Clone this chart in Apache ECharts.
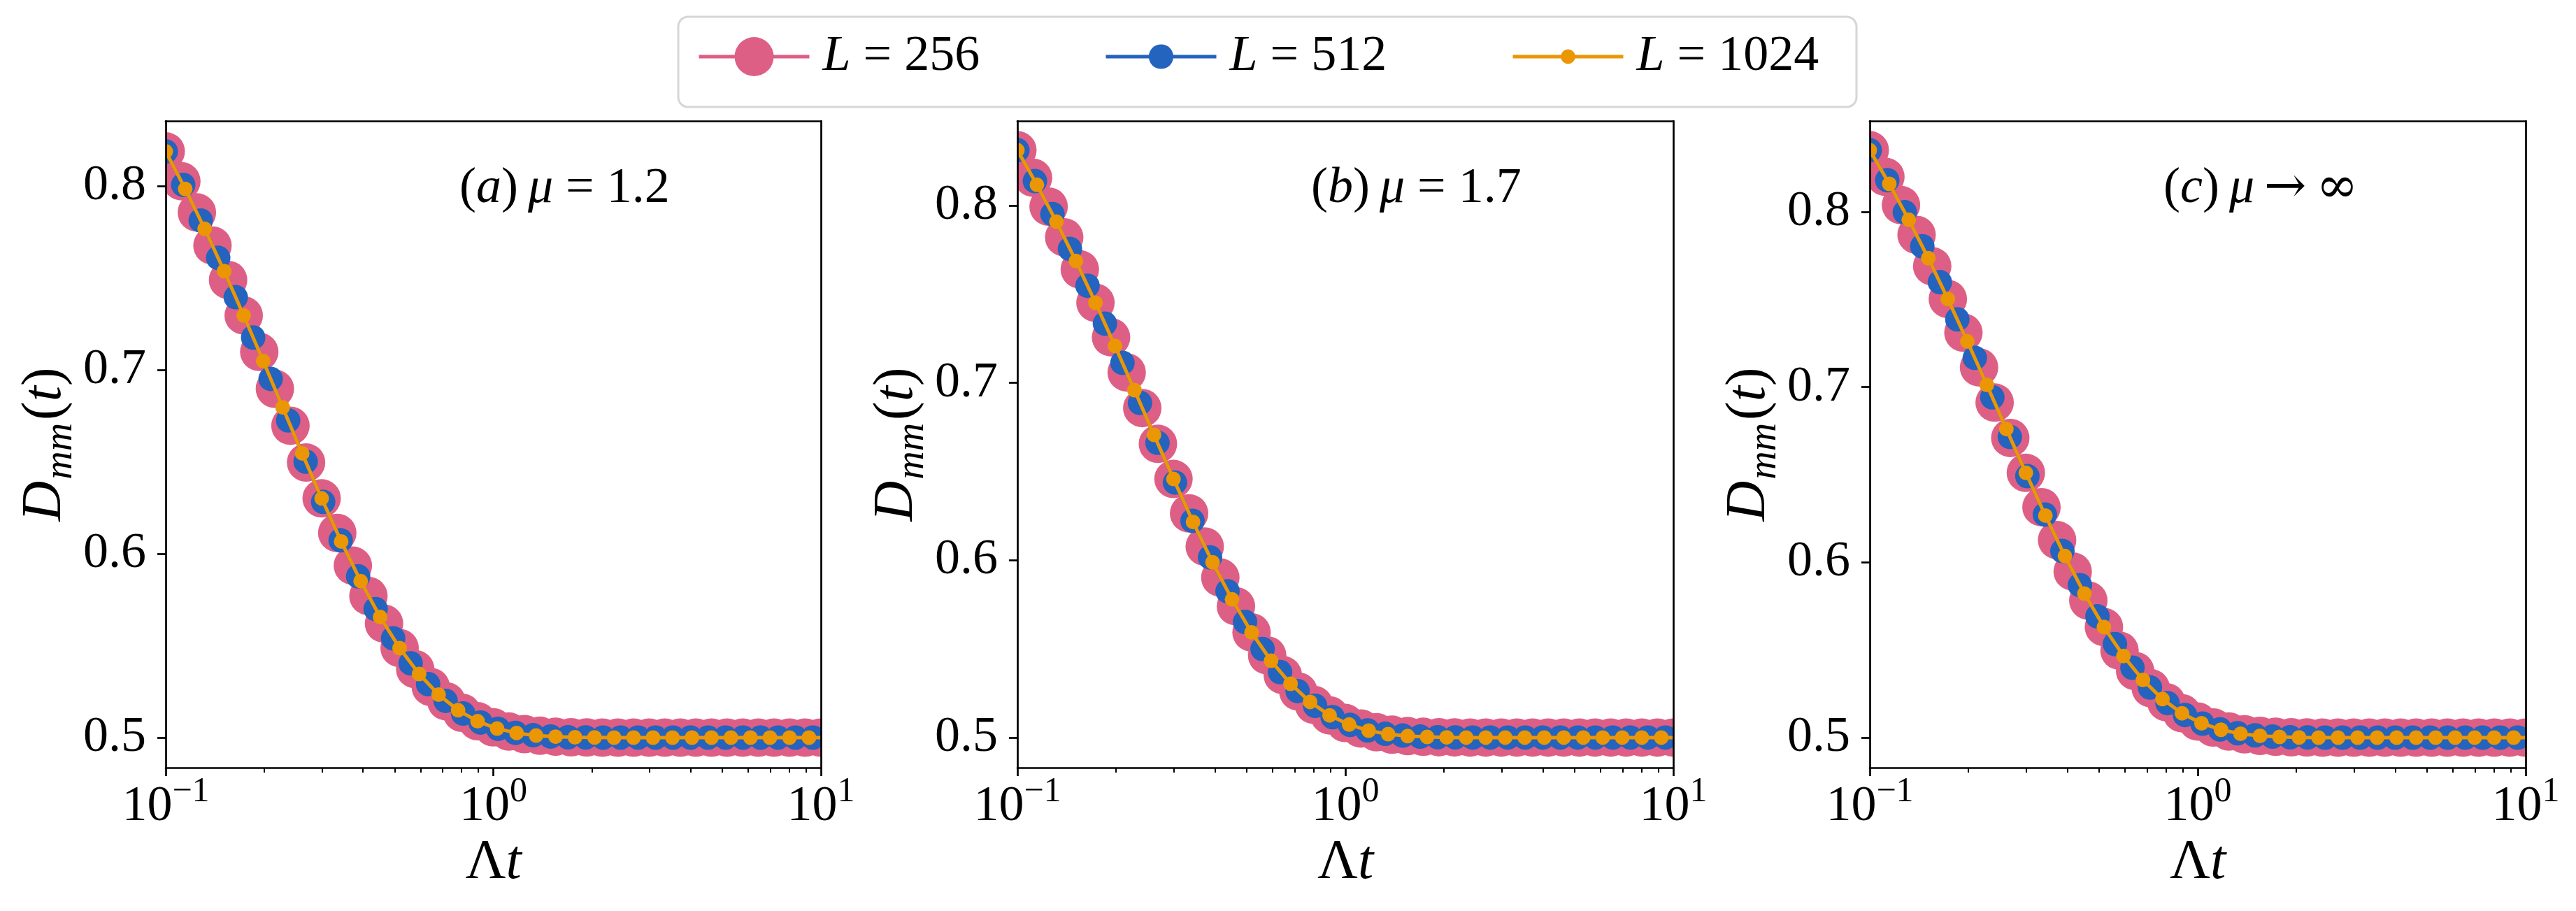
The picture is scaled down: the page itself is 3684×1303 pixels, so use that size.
<!DOCTYPE html>
<html>
<head>
<meta charset="utf-8">
<title>D_mm(t)</title>
<script src="https://cdn.jsdelivr.net/npm/echarts@6.0.0/dist/echarts.min.js"></script>
<style>
html, body { margin: 0; padding: 0; background: #ffffff; }
#main { width: 3684px; height: 1303px; }
</style>
</head>
<body>
<div id="main"></div>
<script>
/** ----------------数据：每个 L 的时间采样点------------------------- */
var tPink = [0.1, 0.1116, 0.1245, 0.1389, 0.1550, 0.1730, 0.1930, 0.2154, 0.2403, 0.2682, 0.2992,
	0.3339, 0.3726, 0.4157, 0.4639, 0.5176, 0.5776, 0.6445, 0.7191, 0.8024, 0.8954, 0.9991,
	1.115, 1.244, 1.388, 1.549, 1.728, 1.929, 2.152, 2.401, 2.679, 2.990, 3.336, 3.722,
	4.154, 4.634, 5.171, 5.771, 6.440, 7.186, 8.017, 8.946, 9.982, 11.14];
var tBlue = [0.1, 0.1131, 0.1279, 0.1446, 0.1636, 0.1849, 0.2091, 0.2365, 0.2674, 0.3024, 0.3420,
	0.3867, 0.4373, 0.4946, 0.5593, 0.6324, 0.7152, 0.8088, 0.9146, 1.034, 1.169, 1.323,
	1.496, 1.691, 1.913, 2.163, 2.446, 2.766, 3.128, 3.537, 3.999, 4.523, 5.115, 5.784,
	6.541, 7.396, 8.364, 9.458, 10.70];
var tOrange = [0.1, 0.1147, 0.1315, 0.1508, 0.1730, 0.1984, 0.2275, 0.2609, 0.2992, 0.3432, 0.3936,
	0.4514, 0.5176, 0.5936, 0.6808, 0.7808, 0.8954, 1.027, 1.178, 1.351, 1.549, 1.776,
	2.037, 2.336, 2.679, 3.073, 3.524, 4.041, 4.634, 5.315, 6.095, 6.990, 8.017, 9.194, 10.54];

/** ----------------数据：(a) mu = 1.2------------------------- */
var aPink = [0.8188, 0.8026, 0.7856, 0.7676, 0.7489, 0.7296, 0.7098, 0.6897, 0.6696, 0.6496, 0.6301,
	0.6113, 0.5935, 0.5770, 0.5620, 0.5487, 0.5372, 0.5275, 0.5197, 0.5135, 0.5089, 0.5056,
	0.5033, 0.5019, 0.5010, 0.5005, 0.5002, 0.5001, 0.5000, 0.5000, 0.5000, 0.5000, 0.5000, 0.5000,
	0.5000, 0.5000, 0.5000, 0.5000, 0.5000, 0.5000, 0.5000, 0.5000, 0.5000, 0.5000];
var aBlue = [0.8188, 0.8006, 0.7812, 0.7609, 0.7395, 0.7176, 0.6951, 0.6725, 0.6501, 0.6282, 0.6073,
	0.5877, 0.5699, 0.5540, 0.5404, 0.5291, 0.5200, 0.5131, 0.5082, 0.5048, 0.5026, 0.5013,
	0.5006, 0.5002, 0.5001, 0.5000, 0.5000, 0.5000, 0.5000, 0.5000, 0.5000, 0.5000, 0.5000, 0.5000,
	0.5000, 0.5000, 0.5000, 0.5000, 0.5000];
var aOrange = [0.8188, 0.7984, 0.7767, 0.7537, 0.7296, 0.7048, 0.6796, 0.6546, 0.6301, 0.6067, 0.5851,
	0.5656, 0.5487, 0.5346, 0.5234, 0.5149, 0.5089, 0.5049, 0.5025, 0.5011, 0.5005, 0.5002,
	0.5001, 0.5000, 0.5000, 0.5000, 0.5000, 0.5000, 0.5000, 0.5000, 0.5000, 0.5000, 0.5000, 0.5000, 0.5000];

/** ----------------数据：(b) mu = 1.7------------------------- */
var bPink = [0.8312, 0.8157, 0.7994, 0.7821, 0.7640, 0.7452, 0.7257, 0.7059, 0.6858, 0.6656, 0.6458,
	0.6264, 0.6077, 0.5902, 0.5740, 0.5593, 0.5463, 0.5352, 0.5259, 0.5184, 0.5125, 0.5082,
	0.5051, 0.5030, 0.5016, 0.5008, 0.5004, 0.5002, 0.5001, 0.5000, 0.5000, 0.5000, 0.5000, 0.5000,
	0.5000, 0.5000, 0.5000, 0.5000, 0.5000, 0.5000, 0.5000, 0.5000, 0.5000, 0.5000];
var bBlue = [0.8312, 0.8138, 0.7952, 0.7755, 0.7548, 0.7334, 0.7113, 0.6887, 0.6662, 0.6438, 0.6222,
	0.6016, 0.5825, 0.5652, 0.5499, 0.5369, 0.5262, 0.5179, 0.5115, 0.5071, 0.5040, 0.5021,
	0.5011, 0.5005, 0.5002, 0.5001, 0.5000, 0.5000, 0.5000, 0.5000, 0.5000, 0.5000, 0.5000, 0.5000,
	0.5000, 0.5000, 0.5000, 0.5000, 0.5000];
var bOrange = [0.8312, 0.8117, 0.7909, 0.7687, 0.7452, 0.7208, 0.6959, 0.6707, 0.6458, 0.6216, 0.5988,
	0.5779, 0.5593, 0.5433, 0.5303, 0.5201, 0.5125, 0.5073, 0.5039, 0.5019, 0.5008, 0.5003,
	0.5001, 0.5000, 0.5000, 0.5000, 0.5000, 0.5000, 0.5000, 0.5000, 0.5000, 0.5000, 0.5000, 0.5000, 0.5000];

/** ----------------数据：(c) mu -> 无穷------------------------- */
var cPink = [0.8352, 0.8200, 0.8039, 0.7869, 0.7690, 0.7503, 0.7311, 0.7113, 0.6912, 0.6710, 0.6511,
	0.6315, 0.6127, 0.5948, 0.5782, 0.5631, 0.5496, 0.5380, 0.5282, 0.5202, 0.5139, 0.5092,
	0.5058, 0.5035, 0.5019, 0.5010, 0.5005, 0.5002, 0.5001, 0.5000, 0.5000, 0.5000, 0.5000, 0.5000,
	0.5000, 0.5000, 0.5000, 0.5000, 0.5000, 0.5000, 0.5000, 0.5000, 0.5000, 0.5000];
var cBlue = [0.8352, 0.8181, 0.7998, 0.7804, 0.7599, 0.7387, 0.7167, 0.6942, 0.6716, 0.6492, 0.6273,
	0.6065, 0.5870, 0.5692, 0.5534, 0.5399, 0.5286, 0.5197, 0.5129, 0.5080, 0.5047, 0.5025,
	0.5013, 0.5006, 0.5002, 0.5001, 0.5000, 0.5000, 0.5000, 0.5000, 0.5000, 0.5000, 0.5000, 0.5000,
	0.5000, 0.5000, 0.5000, 0.5000, 0.5000];
var cOrange = [0.8352, 0.8160, 0.7955, 0.7736, 0.7503, 0.7261, 0.7013, 0.6761, 0.6511, 0.6267, 0.6036,
	0.5822, 0.5631, 0.5466, 0.5329, 0.5220, 0.5139, 0.5082, 0.5045, 0.5022, 0.5010, 0.5004,
	0.5001, 0.5000, 0.5000, 0.5000, 0.5000, 0.5000, 0.5000, 0.5000, 0.5000, 0.5000, 0.5000, 0.5000, 0.5000];

/** ----------------刻度与文字------------------------- */
var seriesNames = ['L = 256', 'L = 512', 'L = 1024'];
var panelTexts = [
	'{p|(}{i|a}{p|)}{g| }{i|μ}{p| = 1.2}',
	'{p|(}{i|b}{p|)}{g| }{i|μ}{p| = 1.7}',
	'{p|(}{i|c}{p|)}{g| }{i|μ}{g| }{a|→}{g| }{a|∞}'
];
var xTickLabels = ['{b|10}{s|−1}', '{b|10}{s|0}', '{b|10}{s|1}'];
var xMinorTicks = [0.2, 0.3, 0.4, 0.5, 0.6, 0.7, 0.8, 0.9, 2, 3, 4, 5, 6, 7, 8, 9];
var yTicks = [0.5, 0.6, 0.7, 0.8];

var FONT = '"Liberation Serif", "DejaVu Serif", serif';
var colors = ['#de5f85', '#2463be', '#eb9605'];
var symbolSizes = [55, 35, 21];

// 面板位置 (像素)
var panelLeft = [237, 1455, 2674];
var panelWidth = [937, 938, 938];
var panelTop = 173;
var panelHeight = 925;
var yRange = [[0.48365, 0.83536], [0.4830, 0.8477], [0.48285, 0.8519]];

function onReady(fn) {
	if (document.readyState !== 'loading') { fn(); } else { document.addEventListener('DOMContentLoaded', fn); }
}

onReady(function() {
	initChart();
});

function pairs(xs, ys) {
	var out = [];
	for (var i = 0; i < xs.length; i++) {
		out.push([xs[i], ys[i]]);
	}
	return out;
}

/** --------加载图表 ------ */
function initChart() {
	var chart = echarts.init(document.getElementById('main'), null, {renderer: 'canvas'});
	var panelData = [
		[aPink, aBlue, aOrange],
		[bPink, bBlue, bOrange],
		[cPink, cBlue, cOrange]
	];
	var xs = [tPink, tBlue, tOrange];

	var grids = [], xAxes = [], yAxes = [], series = [], graphics = [];
	var axisLineStyle = {color: '#000', width: 2.7};

	for (var p = 0; p < 3; p++) {
		grids.push({left: panelLeft[p], top: panelTop, width: panelWidth[p], height: panelHeight, show: false});

		// 主 x 轴 (对数)
		xAxes.push({
			type: 'log', logBase: 10, gridIndex: p, position: 'bottom', min: 0.1, max: 10, z: 10,
			axisLine: {show: true, onZero: false, lineStyle: axisLineStyle},
			axisTick: {show: true, inside: false, length: 12, lineStyle: axisLineStyle},
			minorTick: {show: false},
			splitLine: {show: false},
			axisLabel: {
				show: true, margin: 10, color: '#000', fontFamily: FONT,
				formatter: function(v) {
					var idx = Math.round(Math.log(v) / Math.LN10) + 1;
					return xTickLabels[idx];
				},
				rich: {
					b: {fontSize: 72, fontFamily: FONT, color: '#000'},
					s: {fontSize: 50, fontFamily: FONT, color: '#000', padding: [0, 0, 42, 0]}
				}
			},
			name: '{n|Λ}{i|t}',
			nameLocation: 'middle',
			nameGap: 80,
			nameTextStyle: {
				rich: {
					n: {fontSize: 80, fontFamily: FONT, color: '#000'},
					i: {fontSize: 80, fontFamily: FONT, fontStyle: 'italic', color: '#000'}
				}
			}
		});
		// 次刻度
		xAxes.push({
			type: 'log', logBase: 10, gridIndex: p, position: 'bottom', min: 0.1, max: 10, z: 10,
			axisLine: {show: false},
			axisTick: {show: true, inside: false, length: 7, lineStyle: {color: '#000', width: 2}, customValues: xMinorTicks},
			axisLabel: {show: false},
			splitLine: {show: false}
		});
		// 上边框
		xAxes.push({
			type: 'value', gridIndex: p, position: 'top', min: 0, max: 1, z: 10,
			axisLine: {show: true, onZero: false, lineStyle: axisLineStyle},
			axisTick: {show: false}, axisLabel: {show: false}, splitLine: {show: false}
		});

		// y 轴
		yAxes.push({
			type: 'value', gridIndex: p, position: 'left', min: yRange[p][0], max: yRange[p][1], z: 10,
			axisLine: {show: true, onZero: false, lineStyle: axisLineStyle},
			axisTick: {show: true, inside: false, length: 12, lineStyle: axisLineStyle, customValues: yTicks},
			axisLabel: {
				show: true, margin: 28, color: '#000', fontSize: 72, fontFamily: FONT, customValues: yTicks,
				formatter: function(v) { return v.toFixed(1); }
			},
			splitLine: {show: false},
			name: '{i|D}{s|mm}{p|(}{i|t}{p|)}',
			nameLocation: 'middle',
			nameRotate: 90,
			nameGap: 118,
			nameTextStyle: {
				rich: {
					i: {fontSize: 80, fontFamily: FONT, fontStyle: 'italic', color: '#000'},
					s: {fontSize: 56, fontFamily: FONT, fontStyle: 'italic', color: '#000', padding: [44, 4, 0, 2]},
					p: {fontSize: 80, fontFamily: FONT, color: '#000'}
				}
			}
		});
		// 右边框
		yAxes.push({
			type: 'value', gridIndex: p, position: 'right', min: 0, max: 1, z: 10,
			axisLine: {show: true, onZero: false, lineStyle: axisLineStyle},
			axisTick: {show: false}, axisLabel: {show: false}, splitLine: {show: false}
		});

		for (var s = 0; s < 3; s++) {
			series.push({
				type: 'line',
				name: seriesNames[s],
				xAxisIndex: p * 3,
				yAxisIndex: p * 2,
				data: pairs(xs[s], panelData[p][s]),
				symbol: 'circle',
				symbolSize: symbolSizes[s],
				showSymbol: true,
				clip: true,
				z: 2 + s,
				itemStyle: {color: colors[s], borderWidth: 0},
				lineStyle: {color: colors[s], width: 5},
				emphasis: {disabled: true},
				animation: false
			});
		}

		// 边框外的遮罩，模拟 matplotlib 的裁剪
		var L = panelLeft[p], T = panelTop, W = panelWidth[p], H = panelHeight, m = 42;
		var maskStyle = {fill: '#ffffff', stroke: null};
		graphics.push({type: 'rect', z: 6, silent: true, shape: {x: L - m, y: T - m, width: m, height: H + 2 * m}, style: maskStyle});
		graphics.push({type: 'rect', z: 6, silent: true, shape: {x: L + W, y: T - m, width: m, height: H + 2 * m}, style: maskStyle});
		graphics.push({type: 'rect', z: 6, silent: true, shape: {x: L, y: T - m, width: W, height: m}, style: maskStyle});
		graphics.push({type: 'rect', z: 6, silent: true, shape: {x: L, y: T + H, width: W, height: m}, style: maskStyle});

		// 面板标注
		graphics.push({
			type: 'text', z: 11, silent: true,
			x: L + 420, y: 270,
			style: {
				text: panelTexts[p],
				verticalAlign: 'middle',
				align: 'left',
				fill: '#000',
				font: '72px ' + FONT,
				rich: {
					p: {fontSize: 72, fontFamily: FONT, fill: '#000'},
					i: {fontSize: 72, fontFamily: FONT, fontStyle: 'italic', fill: '#000'},
					g: {fontSize: 56, fontFamily: FONT, fill: '#000'},
					a: {fontSize: 72, fontFamily: '"DejaVu Serif", serif', fill: '#000'}
				}
			}
		});
	}

	// 图例边框
	graphics.push({
		type: 'rect', z: 11, silent: true,
		shape: {x: 970, y: 24, width: 1685, height: 129, r: 14},
		style: {fill: '#ffffff', stroke: '#d6d6d6', lineWidth: 3}
	});

	var legendRich = {
		i: {fontSize: 72, fontFamily: FONT, fontStyle: 'italic', color: '#000', padding: [0, 0, 0, 14]},
		n: {fontSize: 72, fontFamily: FONT, color: '#000'}
	};
	var legendFormatter = function(name) {
		return '{i|L}{n|' + name.substring(1) + '}';
	};
	var legendLeft = [997, 1579, 2161];
	var legendItemHeight = [70, 44, 26];
	var legends = [];
	for (var k = 0; k < 3; k++) {
		legends.push({
			data: [seriesNames[k]],
			left: legendLeft[k],
			top: 41,
			padding: 0,
			z: 12,
			orient: 'horizontal',
			itemWidth: 158,
			itemHeight: legendItemHeight[k],
			selectedMode: false,
			formatter: legendFormatter,
			lineStyle: {width: 5},
			textStyle: {fontSize: 72, fontFamily: FONT, color: '#000', lineHeight: 80, rich: legendRich}
		});
	}

	var option = {
		animation: false,
		backgroundColor: '#ffffff',
		textStyle: {fontFamily: FONT},
		grid: grids,
		xAxis: xAxes,
		yAxis: yAxes,
		legend: legends,
		graphic: {elements: graphics},
		series: series
	};
	chart.setOption(option);
}
</script>
</body>
</html>
